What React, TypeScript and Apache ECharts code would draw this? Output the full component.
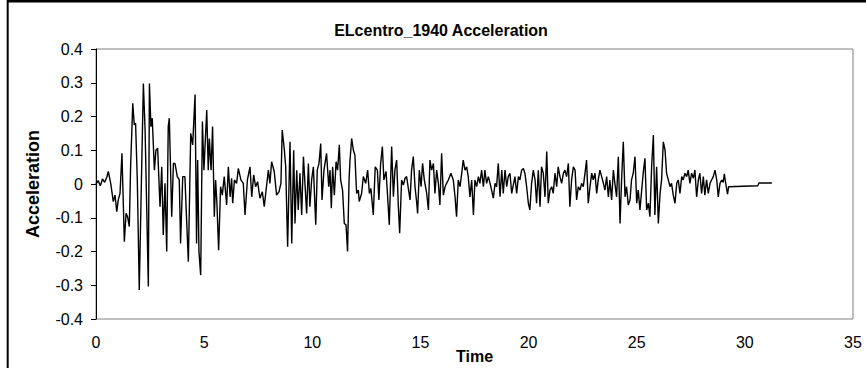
import React, { useEffect, useRef } from "react";
import * as echarts from "echarts";

const phase0to5: [number, number][] = [
  [0, 0], [0.1, 0.01], [0.2, -0.005], [0.3, 0.015], [0.4, 0.005], [0.5, 0.02], [0.57, 0.037], [0.68, 0.002],
  [0.8, -0.052], [0.88, -0.033], [0.96, -0.082], [1.03, -0.047], [1.11, -0.028], [1.2, 0.091], [1.31, -0.171],
  [1.39, -0.087], [1.46, -0.097], [1.54, -0.126], [1.6, 0.051], [1.7, 0.239], [1.77, 0.175], [1.83, 0.18],
  [1.91, 0.012], [2.0, -0.314], [2.11, 0.041], [2.19, 0.298], [2.27, 0.16], [2.34, -0.057], [2.42, -0.304],
  [2.47, 0.298], [2.54, 0.17], [2.6, 0.195], [2.7, 0.041], [2.77, 0.1], [2.85, 0.106], [2.96, -0.067],
  [3.04, 0.051], [3.11, -0.151], [3.19, 0.002], [3.27, -0.2], [3.34, 0.17], [3.39, 0.195], [3.5, -0.097],
  [3.58, 0.061], [3.65, 0.061], [3.76, 0.022], [3.85, 0.012], [3.91, -0.176], [4.01, 0.022], [4.11, 0.022],
  [4.19, -0.107], [4.27, -0.23], [4.38, 0.15], [4.47, 0.116], [4.58, 0.265], [4.65, -0.176], [4.7, 0.071],
  [4.76, -0.2], [4.84, -0.27], [4.92, 0.185], [4.99, 0.041],
];

const phase5to10: [number, number][] = [
  [5.12, 0.219], [5.19, 0.041], [5.24, 0.135], [5.32, 0.041], [5.39, 0.17], [5.47, -0.097], [5.53, 0.012],
  [5.59, -0.057], [5.67, -0.196], [5.76, -0.008], [5.84, -0.033], [5.93, 0.022], [6.04, -0.062], [6.12, 0.051],
  [6.2, -0.038], [6.27, 0.017], [6.32, -0.057], [6.4, 0.012], [6.5, 0.002], [6.58, 0.046], [6.7, 0.012],
  [6.81, 0.002], [6.89, -0.092], [7.0, 0.012], [7.12, 0.051], [7.2, -0.038], [7.29, 0.027], [7.38, -0.008],
  [7.47, 0.007], [7.58, -0.042], [7.69, -0.023], [7.78, -0.067], [7.89, -0.003], [7.97, 0.041], [8.04, 0.002],
  [8.12, 0.066], [8.24, 0.037], [8.35, -0.033], [8.46, -0.023], [8.55, 0.002], [8.61, 0.16], [8.71, 0.1],
  [8.77, 0.051], [8.86, -0.186], [8.97, 0.125], [9.05, -0.176], [9.14, 0.1], [9.2, -0.117], [9.28, 0.041],
  [9.35, -0.077], [9.43, 0.032], [9.51, -0.092], [9.59, 0.081], [9.74, -0.087], [9.82, 0.061], [9.89, -0.067],
  [9.97, 0.012],
];

const phase10to15: [number, number][] = [
  [10.05, 0.051], [10.16, -0.121], [10.23, 0.041], [10.31, 0.061], [10.39, 0.12], [10.45, -0.047], [10.54, 0.041],
  [10.66, 0.091], [10.76, -0.008], [10.82, 0.041], [10.88, -0.072], [10.94, 0.051], [11.02, -0.033], [11.1, 0.066],
  [11.17, 0.041], [11.25, 0.116], [11.31, 0.012], [11.4, -0.018], [11.48, -0.117], [11.56, -0.121], [11.63, -0.2],
  [11.7, 0.012], [11.74, 0.066], [11.82, 0.135], [11.9, 0.1], [11.97, 0.086], [12.05, -0.028], [12.13, -0.018],
  [12.17, -0.052], [12.28, -0.028], [12.36, 0.022], [12.47, 0.002], [12.56, 0.041], [12.64, -0.028], [12.71, -0.013],
  [12.82, -0.092], [12.91, 0.051], [13.01, 0.041], [13.08, -0.047], [13.16, 0.061], [13.24, 0.111], [13.31, 0.012],
  [13.41, 0.037], [13.47, -0.023], [13.56, -0.121], [13.67, 0.111], [13.75, -0.038], [13.82, 0.041], [13.9, 0.071],
  [13.98, -0.067], [14.04, -0.146], [14.13, 0.012], [14.21, -0.003], [14.29, 0.017], [14.36, 0.022], [14.52, -0.047],
  [14.59, 0.041], [14.67, 0.081], [14.75, -0.008], [14.83, -0.057], [14.87, -0.087], [14.95, 0.041],
];

const phase15to20: [number, number][] = [
  [15.03, -0.008], [15.1, 0.061], [15.18, 0.012], [15.29, -0.028], [15.37, -0.077], [15.44, 0.071], [15.52, 0.041],
  [15.6, 0.061], [15.67, -0.028], [15.75, 0.041], [15.83, 0.002], [15.9, -0.062], [15.98, 0.091], [16.06, -0.033],
  [16.14, -0.008], [16.21, 0.002], [16.29, 0.012], [16.41, 0.032], [16.52, 0.012], [16.6, -0.038], [16.67, -0.097],
  [16.75, 0.012], [16.83, -0.008], [16.91, 0.032], [16.98, 0.071], [17.06, 0.041], [17.14, 0.051], [17.21, 0.022],
  [17.29, -0.038], [17.37, 0.012], [17.45, -0.092], [17.52, 0.012], [17.6, -0.008], [17.68, 0.022], [17.75, 0.002],
  [17.83, 0.041], [17.91, -0.008], [17.98, 0.041], [18.06, 0.002], [18.14, 0.022], [18.22, 0.002], [18.29, -0.018],
  [18.37, -0.042], [18.45, 0.002], [18.52, -0.008], [18.6, 0.061], [18.68, -0.038], [18.76, 0.041], [18.83, -0.028],
  [18.91, 0.041], [18.99, -0.008], [19.06, 0.022], [19.14, 0.032], [19.22, -0.028], [19.37, 0.022], [19.45, -0.028],
  [19.53, 0.022], [19.6, 0.012], [19.68, 0.041], [19.76, 0.046], [19.83, 0.032], [19.91, -0.008],
];

const phase20to25: [number, number][] = [
  [19.99, -0.057], [20.06, -0.077], [20.14, 0.002], [20.22, 0.041], [20.3, 0.012], [20.37, -0.057], [20.45, 0.041],
  [20.53, -0.067], [20.6, 0.051], [20.68, 0.032], [20.76, -0.038], [20.84, 0.096], [20.91, -0.057], [20.99, -0.018],
  [21.07, -0.008], [21.14, -0.028], [21.22, 0.032], [21.3, -0.008], [21.37, 0.051], [21.45, 0.022], [21.53, 0.002],
  [21.61, 0.032], [21.68, 0.041], [21.76, 0.022], [21.84, 0.061], [21.91, -0.067], [21.99, 0.012], [22.07, 0.051],
  [22.15, 0.041], [22.22, -0.047], [22.3, -0.008], [22.38, -0.018], [22.45, 0.002], [22.53, -0.008], [22.61, 0.032],
  [22.68, 0.071], [22.76, -0.057], [22.84, -0.008], [22.92, 0.032], [22.99, 0.012], [23.07, 0.032], [23.15, -0.028],
  [23.22, 0.012], [23.3, 0.041], [23.38, 0.022], [23.46, 0.002], [23.53, -0.018], [23.61, 0.022], [23.69, -0.038],
  [23.76, 0.012], [23.84, -0.047], [23.92, 0.041], [23.99, 0.002], [24.07, -0.038], [24.15, 0.081], [24.23, -0.117],
  [24.3, 0.012], [24.38, 0.125], [24.46, -0.038], [24.53, -0.008], [24.61, -0.062], [24.69, -0.047], [24.76, 0.012],
  [24.84, 0.032], [24.92, 0.081],
];

const phase25to31: [number, number][] = [
  [25.0, -0.057], [25.07, -0.018], [25.15, -0.077], [25.23, -0.018], [25.3, 0.032], [25.38, 0.076], [25.46, -0.077],
  [25.54, -0.057], [25.61, -0.097], [25.69, 0.051], [25.77, 0.145], [25.84, -0.092], [25.92, 0.051], [26.0, -0.117],
  [26.08, -0.028], [26.15, 0.012], [26.23, 0.125], [26.31, 0.1], [26.38, 0.032], [26.46, 0.012], [26.54, -0.008],
  [26.61, 0.002], [26.69, -0.033], [26.77, -0.057], [26.85, 0.002], [26.92, 0.012], [27.0, -0.028], [27.08, 0.022],
  [27.15, 0.012], [27.23, 0.032], [27.31, 0.022], [27.38, 0.041], [27.46, 0.002], [27.54, 0.032], [27.62, 0.017],
  [27.69, 0.041], [27.77, -0.038], [27.85, 0.012], [27.92, 0.032], [28.0, -0.028], [28.08, 0.022], [28.15, -0.033],
  [28.23, 0.012], [28.31, -0.028], [28.39, 0.002], [28.46, 0.012], [28.54, 0.022], [28.62, 0.041], [28.7, 0.012],
  [28.77, -0.038], [28.85, 0.002], [28.93, 0.012], [29.0, 0.005], [29.05, 0.03], [29.12, 0.0], [29.2, -0.03],
  [29.25, -0.008], [30.6, -0.005], [30.65, 0.003], [31.25, 0.003],
];

const chartTitle = "ELcentro_1940 Acceleration";
const xName = "Time";
const yName = "Acceleration";

const FONT = '"Liberation Sans", Arial, sans-serif';

export default function App() {
  const ref = useRef<HTMLDivElement>(null);

  useEffect(() => {
    if (!ref.current) return;
    const chart = echarts.init(ref.current, null, { renderer: "svg" });
    const data = [
      ...phase0to5,
      ...phase5to10,
      ...phase10to15,
      ...phase15to20,
      ...phase20to25,
      ...phase25to31,
    ];
    chart.setOption({
      animation: false,
      backgroundColor: "#ffffff",
      textStyle: { fontFamily: FONT },
      grid: {
        left: 96,
        right: 13,
        top: 49,
        bottom: 49,
        outerBoundsMode: "none",
        containLabel: false,
        show: true,
        borderColor: "#808080",
        borderWidth: 1,
      },
      graphic: [
        {
          type: "text",
          x: 441,
          y: 30,
          style: {
            text: chartTitle,
            align: "center",
            verticalAlign: "middle",
            font: `bold 16px ${FONT}`,
            fill: "#000",
          },
        },
        {
          type: "line",
          shape: { x1: 7, y1: 1.2, x2: 866, y2: 1.2 },
          style: { stroke: "#000", lineWidth: 2.4 },
        },
        {
          type: "line",
          shape: { x1: 7.7, y1: 0, x2: 7.7, y2: 368 },
          style: { stroke: "#000", lineWidth: 2 },
        },
      ],
      xAxis: {
        type: "value",
        min: 0,
        max: 35,
        interval: 5,
        axisLine: { show: false, onZero: false },
        axisTick: { show: false },
        splitLine: { show: false },
        axisLabel: { color: "#000", fontSize: 16, fontFamily: FONT, margin: 15 },
        name: xName,
        nameLocation: "middle",
        nameGap: 29,
        nameMoveOverlap: false,
        nameTextStyle: { color: "#000", fontSize: 16, fontWeight: "bold", fontFamily: FONT },
      },
      yAxis: {
        type: "value",
        min: -0.4,
        max: 0.4,
        interval: 0.1,
        axisLine: { show: true, onZero: false, lineStyle: { color: "#000", width: 1 } },
        axisTick: { show: true, inside: false, length: 5, lineStyle: { color: "#000" } },
        splitLine: { show: false },
        axisLabel: { color: "#000", fontSize: 16, fontFamily: FONT, margin: 13 },
        name: yName,
        nameLocation: "middle",
        nameGap: 54,
        nameMoveOverlap: false,
        nameTextStyle: { color: "#000", fontSize: 18, fontWeight: "bold", fontFamily: FONT },
      },
      series: [
        {
          type: "line",
          data,
          showSymbol: false,
          symbol: "none",
          lineStyle: { color: "#000", width: 1.4 },
          silent: true,
        },
      ],
    });
    return () => chart.dispose();
  }, []);

  return (
    <div
      ref={ref}
      style={{ position: "fixed", left: 0, top: 0, width: 866, height: 368, background: "#fff" }}
    />
  );
}
